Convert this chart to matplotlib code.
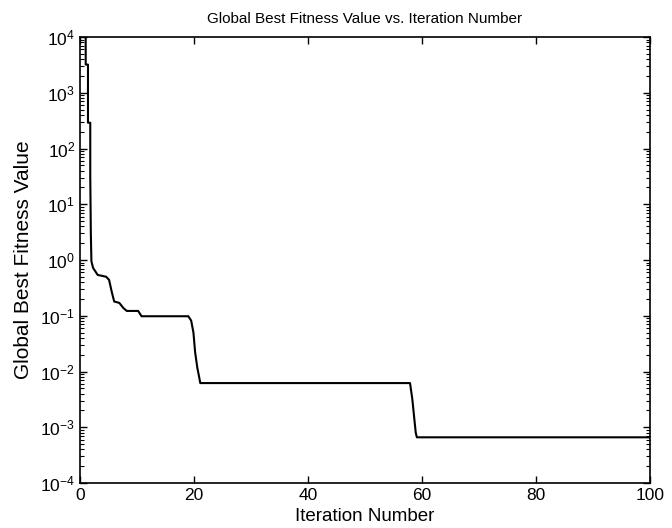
import matplotlib
matplotlib.use('Agg')
import matplotlib.pyplot as plt

plt.rcParams['font.family'] = ['Liberation Sans', 'DejaVu Sans']
plt.rcParams['mathtext.fontset'] = 'custom'
plt.rcParams['mathtext.rm'] = 'Liberation Sans'
plt.rcParams['mathtext.it'] = 'Liberation Sans'

# Data (iteration, global best fitness)
iteration = [1.0, 1.0, 1.4, 1.4, 1.8, 1.8, 1.9, 2.0,
             2.3, 3.1, 4.6, 5.1, 5.6, 6.0, 6.9,
             7.6, 8.2, 10.2, 10.8, 19.0, 19.5,
             19.9, 20.2, 20.6, 20.9, 21.1,
             57.9, 58.3, 58.6, 58.9, 59.1, 100.0]
fitness = [1.2e4, 3200, 3200, 290, 290, 32, 3.1, 0.95,
           0.72, 0.54, 0.50, 0.44, 0.26, 0.18, 0.17,
           0.138, 0.122, 0.122, 0.098, 0.098, 0.082,
           0.05, 0.022, 0.0114, 0.008, 0.0062,
           0.0062, 0.0032, 0.0016, 0.0008, 0.00066, 0.00066]

fig = plt.figure(figsize=(6.72, 5.28), dpi=100)
ax = fig.add_axes([80/672, 1-483/528, 570/672, 446/528])

ax.plot(iteration, fitness, color='black', lw=1.5)
ax.set_yscale('log')
ax.set_xlim(0, 100)
ax.set_ylim(1e-4, 1e4)
ax.set_xticks([0, 20, 40, 60, 80, 100])
ax.set_yticks([10.0**k for k in range(-4, 5)])

ax.tick_params(which='both', direction='in', top=True, right=True, labelsize=12.5)
ax.tick_params(which='major', length=5, width=1)
ax.tick_params(which='minor', length=3, width=0.8)
for s in ax.spines.values():
    s.set_linewidth(1.2)

ax.set_title('Global Best Fitness Value vs. Iteration Number', fontsize=11, pad=10)
ax.set_xlabel('Iteration Number', fontsize=13.5, labelpad=4)
ax.set_ylabel('Global Best Fitness Value', fontsize=15, labelpad=5)

fig.savefig('out.png', dpi=100)
